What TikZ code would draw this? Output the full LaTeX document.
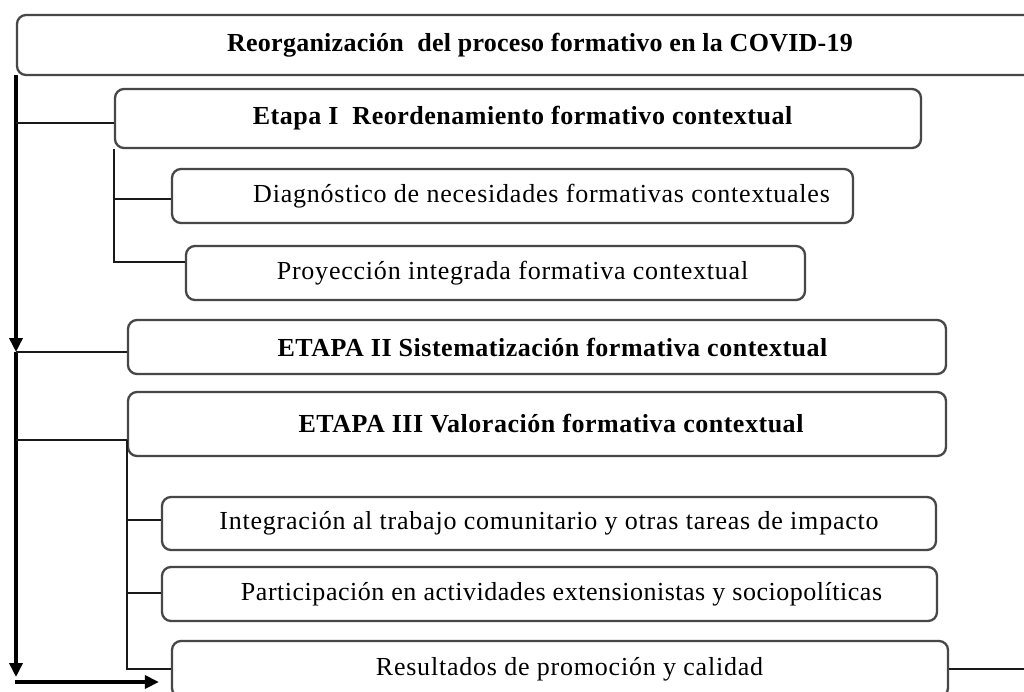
\documentclass[tikz,border=0pt]{standalone}
\usepackage{fontspec}
\setmainfont{Liberation Serif}
\usetikzlibrary{arrows.meta}
\begin{document}
\begin{tikzpicture}[x=1pt,y=-1pt,
  box/.style={draw=black!72, line width=2.3pt, rounded corners=9pt, fill=white, inner sep=0pt,
    font=\fontsize{26}{30}\selectfont\addfontfeatures{LetterSpace=3}},
  bbox/.style={box, font=\fontsize{26}{30}\selectfont\bfseries\addfontfeatures{LetterSpace=2}},
  conn/.style={line width=2.1pt, black!90},
  mainl/.style={line width=3.6pt, black},
  tip/.style={-{Triangle[length=14pt,width=13pt]}}]
\useasboundingbox[fill=white] (0,0) rectangle (1024,691);

% boxes
\node[bbox, minimum width=1046pt, minimum height=60pt,
  font=\fontsize{26}{30}\selectfont\bfseries\addfontfeatures{LetterSpace=1}] (top) at (540,45)
  {Reorganización\ \ del proceso formativo en la COVID-19};
\node[bbox, minimum width=806pt, minimum height=59pt] (e1) at (518,118.5)
  {\hspace*{9pt}Etapa I\ \ Reordenamiento formativo contextual};
\node[box, minimum width=681pt, minimum height=54pt] (d1) at (512.5,196)
  {\hspace*{58pt}Diagnóstico de necesidades formativas contextuales};
\node[box, minimum width=619pt, minimum height=54pt] (p1) at (495.5,273)
  {\hspace*{34pt}Proyección integrada formativa contextual};
\node[bbox, minimum width=818pt, minimum height=54pt] (e2) at (537,347)
  {\hspace*{31pt}ETAPA II Sistematización formativa contextual};
\node[bbox, minimum width=818pt, minimum height=64pt] (e3) at (537,424)
  {\hspace*{28pt}ETAPA III Valoración formativa contextual};
\node[box, minimum width=774pt, minimum height=53pt] (i1) at (549,523.5)
  {Integración al trabajo comunitario y otras tareas de impacto};
\node[box, minimum width=775pt, minimum height=54pt,
  font=\fontsize{26}{30}\selectfont\addfontfeatures{LetterSpace=2}] (pa) at (549.5,594)
  {\hspace*{24pt}Participación en actividades extensionistas y sociopolíticas};
\node[box, minimum width=776pt, minimum height=56pt] (r1) at (560,669)
  {\hspace*{19pt}Resultados de promoción y calidad};

% coordinates for branch heights
\coordinate (m0) at (16,75);
\coordinate (m1) at (16,123);
\coordinate (m2) at (16,352);
\coordinate (m3) at (16,440);
\coordinate (mend) at (16,677);
\coordinate (b0) at (15,682);
\coordinate (d1c) at (0,199);
\coordinate (p1c) at (0,262);
\coordinate (i1c) at (0,520);
\coordinate (pac) at (0,593);
\coordinate (r1c) at (0,669);
\coordinate (rend) at (1024,669);

% main spine
\draw[mainl,tip] (m0) -- (m2);
\draw[mainl,tip] (m2) -- (mend);
\draw[mainl,tip,shorten >=12pt] (b0) -- (r1.west |- b0);

% stage I
\draw[conn] (m1) -- (e1.west |- m1);
\draw[conn] (e1.south west) -- (e1.south west |- p1c) -- (p1.west |- p1c);
\draw[conn] (e1.south west |- d1c) -- (d1.west |- d1c);

% stage II
\draw[conn] (m2) -- (e2.west |- m2);

% stage III
\draw[conn] (m3) -- (e3.west |- m3);
\draw[conn] (e3.west |- m3) -- (e3.west |- r1c) -- (r1.west |- r1c);
\draw[conn] (e3.west |- i1c) -- (i1.west |- i1c);
\draw[conn] (e3.west |- pac) -- (pa.west |- pac);
\draw[conn] (r1.east |- r1c) -- (rend);
\end{tikzpicture}
\end{document}
